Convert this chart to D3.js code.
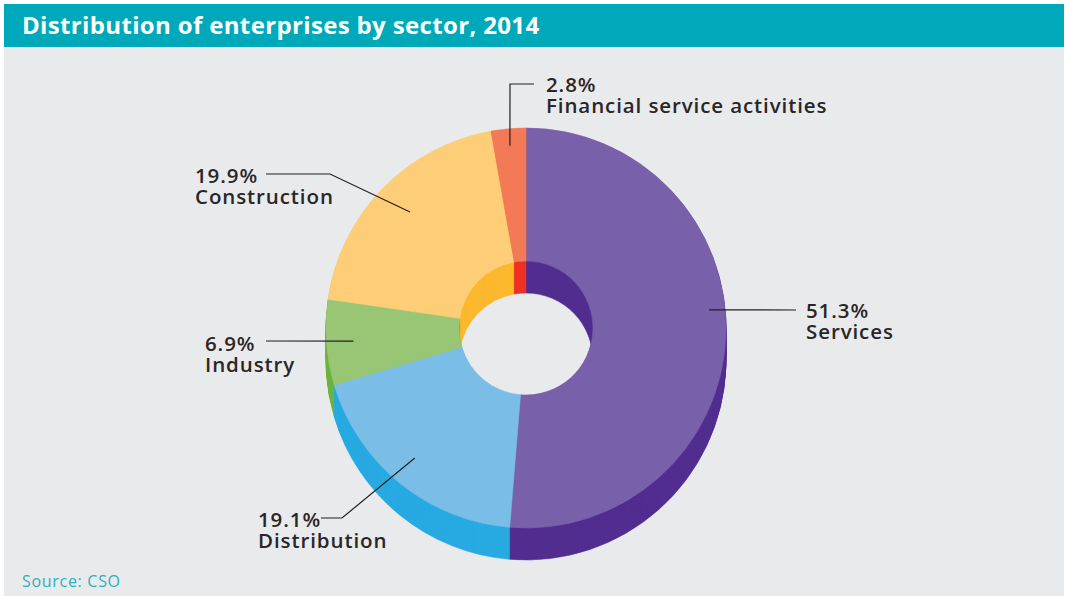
<!DOCTYPE html>
<html>
<head>
<meta charset="utf-8">
<script src="https://cdn.jsdelivr.net/npm/d3@7"></script>
<style>
  html, body { margin: 0; padding: 0; background: #ffffff; }
  svg { display: block; }
</style>
</head>
<body>
<svg id="chart" width="1069" height="596"></svg>
<script>
// Enterprise counts by sector, 2014 (share of total, %)
const sectors = ["Services", "Distribution", "Industry", "Construction", "Financial service activities"];
const shares = [51.3, 19.1, 6.9, 19.9, 2.8];
const topColors = ["#7960aa", "#7abde7", "#98c675", "#fdcd77", "#f37a56"];
const sideColors = ["#522e91", "#28aae1", "#6db33f", "#fcb92e", "#ee3124"];

const W = 1069, H = 596;
const FONT = "'Open Sans', sans-serif";
const svg = d3.select("#chart");

// panel and title band
svg.append("rect").attr("x", 4).attr("y", 4).attr("width", 1060).attr("height", H - 4)
  .attr("fill", "#e9eaec");
svg.append("rect").attr("x", 4).attr("y", 4).attr("width", 1060).attr("height", 43)
  .attr("fill", "#00a9b9");
svg.append("text").attr("x", 22).attr("y", 33.5)
  .attr("font-family", FONT).attr("font-weight", 700)
  .attr("font-size", 24).attr("letter-spacing", 0.35).attr("fill", "#ffffff")
  .text("Distribution of enterprises by sector, 2014");
svg.append("text").attr("x", 22).attr("y", 587)
  .attr("font-family", FONT).attr("font-size", 16).attr("letter-spacing", 0.7)
  .attr("fill", "#2ab0c4").text("Source: CSO");

// donut geometry
const cx = 526, cy = 328, R = 200, r0 = 67, depth = 32;

const pie = d3.pie().sort(null).value(d => d)
  .startAngle(0).endAngle(2 * Math.PI);
const arcs = pie(shares);
const arc = d3.arc().innerRadius(r0).outerRadius(R);

const donut = svg.append("g");

// extruded body: stacked copies of the ring, deepest first
for (let t = depth; t >= 1; t--) {
  donut.append("g").attr("transform", `translate(${cx},${cy + t})`)
    .selectAll("path").data(arcs).join("path")
    .attr("d", arc)
    .attr("fill", (d, i) => sideColors[i])
    .attr("stroke", (d, i) => sideColors[i])
    .attr("stroke-width", 0.6);
}

// top face
donut.append("g").attr("transform", `translate(${cx},${cy})`)
  .selectAll("path").data(arcs).join("path")
  .attr("d", arc)
  .attr("fill", (d, i) => topColors[i])
  .attr("stroke", (d, i) => topColors[i])
  .attr("stroke-width", 0.6);

// label layout: anchor angle offset (deg) from slice middle, anchor radius,
// elbow point, line end and text position
const labelLayout = [
  { dAng: -8, rad: 184, elbow: [796, 310], end: [796, 310], tx: 806, ty: 318 },
  { dAng: 1.5, rad: 171, elbow: [342, 518], end: [321, 518], tx: 258, ty: 527 },
  { dAng: -0.2, rad: 173, elbow: [266, 341], end: [266, 341], tx: 205, ty: 351 },
  { dAng: 0.9, rad: 164, elbow: [330, 174], end: [266, 174], tx: 195, ty: 183 },
  { dAng: 0, rad: 183, elbow: [510, 84], end: [534, 84], tx: 546, ty: 92 }
];

const labels = svg.append("g");
arcs.forEach((a, i) => {
  const L = labelLayout[i];
  const ang = (a.startAngle + a.endAngle) / 2 + L.dAng * Math.PI / 180;
  const ax = cx + L.rad * Math.sin(ang);
  const ay = cy - L.rad * Math.cos(ang);
  labels.append("path")
    .attr("d", d3.line()([[ax, ay], L.elbow, L.end]))
    .attr("fill", "none").attr("stroke", "#231f20").attr("stroke-width", 1.2);
  const txt = labels.append("text")
    .attr("x", L.tx).attr("y", L.ty)
    .attr("font-family", FONT).attr("font-weight", 600)
    .attr("font-size", 20.5).attr("letter-spacing", 0.9).attr("fill", "#2a2627");
  txt.append("tspan").attr("x", L.tx).text(d3.format(".1f")(shares[i]) + "%");
  txt.append("tspan").attr("x", L.tx).attr("dy", 21).text(sectors[i]);
});
</script>
</body>
</html>
